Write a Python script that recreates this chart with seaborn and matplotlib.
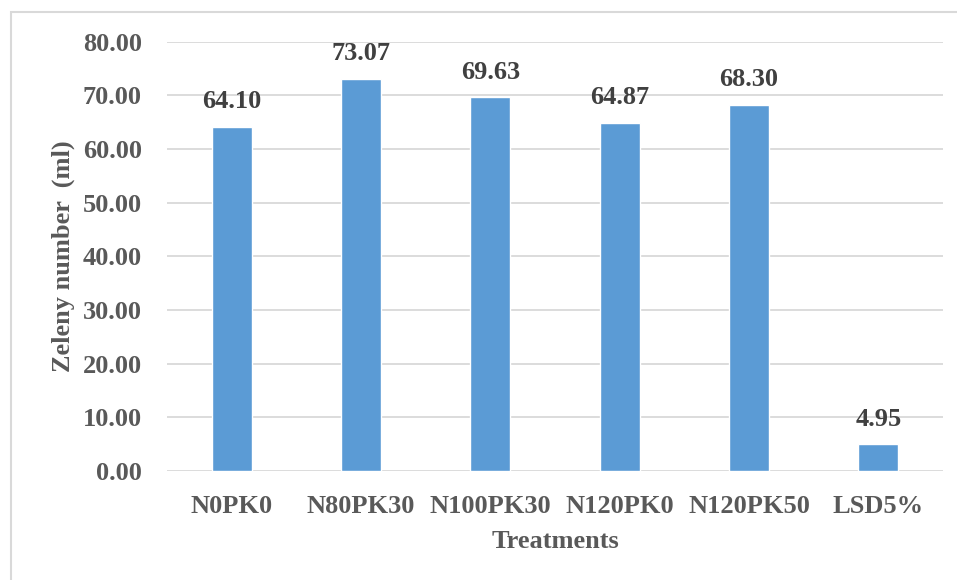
import matplotlib
matplotlib.use("Agg")
import matplotlib.pyplot as plt
import seaborn as sns
import pandas as pd
from matplotlib.patches import Rectangle

treatments = ["N0PK0", "N80PK30", "N100PK30", "N120PK0", "N120PK50", "LSD5%"]
zeleny = [64.10, 73.07, 69.63, 64.87, 68.30, 4.95]
y_ticks = [0, 10, 20, 30, 40, 50, 60, 70, 80]

df = pd.DataFrame({"Treatments": treatments, "Zeleny": zeleny})

sns.set_theme(style="white")
plt.rcParams["font.family"] = ["Liberation Serif", "DejaVu Serif"]
plt.rcParams["font.weight"] = "bold"

FS = 19

fig = plt.figure(figsize=(9.57, 5.80), dpi=100)
ax = fig.add_axes([0.1745, 0.188, 0.8109, 0.740])

sns.barplot(data=df, x="Treatments", y="Zeleny", color="#5B9BD5",
            saturation=1, width=0.31, ax=ax, zorder=3)

ax.set_ylim(0, 80)
ax.set_yticks(y_ticks)
ax.set_yticklabels([f"{v:.2f}" for v in y_ticks])
ax.yaxis.grid(True, color="#D9D9D9", linewidth=1.3, zorder=0)
ax.xaxis.grid(False)
for s in ax.spines.values():
    s.set_visible(False)
ax.tick_params(axis="both", length=0, colors="#595959", labelsize=FS)
ax.tick_params(axis="y", pad=18)
ax.tick_params(axis="x", pad=17)
for lab in ax.get_xticklabels() + ax.get_yticklabels():
    lab.set_fontweight("bold")

for i, v in enumerate(zeleny):
    ax.annotate(f"{v:.2f}", xy=(i, v), xytext=(0, 10), textcoords="offset points",
                ha="center", va="bottom", fontsize=FS, fontweight="bold",
                color="#404040")

ax.set_xlabel("Treatments", fontsize=FS, fontweight="bold", color="#595959", labelpad=9)
ax.set_ylabel("Zeleny number  (ml)", fontsize=FS, fontweight="bold", color="#595959", labelpad=6)

# light frame around the chart area
fig.add_artist(Rectangle((11 / 957, -0.1), 1.1, 1 - 12 / 580 + 0.1,
                         transform=fig.transFigure, fill=False,
                         edgecolor="#D9D9D9", linewidth=1.5))

fig.savefig("out.png", dpi=100)
